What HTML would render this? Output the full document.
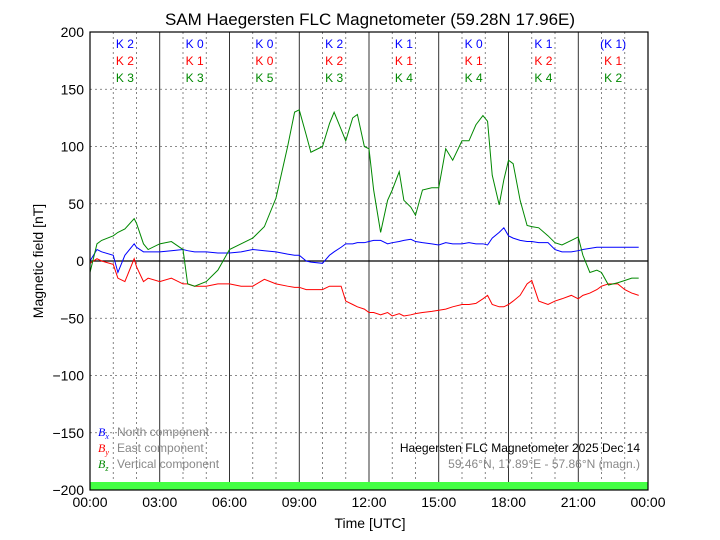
<!DOCTYPE html>
<html><head><meta charset="utf-8"><style>
body{margin:0;background:#fff}
svg{display:block;font-family:"Liberation Sans",sans-serif}
</style></head><body>
<svg id="c" width="720" height="540">
<text x="370" y="25" font-size="17" text-anchor="middle">SAM Haegersten FLC Magnetometer (59.28N 17.96E)</text>
<g id="grid"></g>
<rect x="90" y="482" width="558" height="8" fill="#44ff44"/>
<g id="series"></g>
<rect x="90" y="32" width="558" height="458" fill="none" stroke="#000" stroke-width="1.2"/>
<g id="axes"></g>
<text x="370" y="528" font-size="14" text-anchor="middle">Time [UTC]</text>
<text transform="translate(43,261) rotate(-90)" font-size="14" text-anchor="middle">Magnetic field [nT]</text>
<g font-size="12">
<text x="98" y="436" fill="#00f" font-family="Liberation Serif" font-style="italic">B<tspan font-size="8" dy="3">x</tspan></text>
<text x="117" y="436" fill="#888">North component</text>
<text x="98" y="452" fill="#f00" font-family="Liberation Serif" font-style="italic">B<tspan font-size="8" dy="3">y</tspan></text>
<text x="117" y="452" fill="#888">East component</text>
<text x="98" y="468" fill="#080" font-family="Liberation Serif" font-style="italic">B<tspan font-size="8" dy="3">z</tspan></text>
<text x="117" y="468" fill="#888">Vertical component</text>
</g>
<text x="640" y="452" font-size="12" text-anchor="end">Haegersten FLC Magnetometer 2025 Dec 14</text>
<text x="640" y="468" font-size="12" text-anchor="end" fill="#888">59.46°N, 17.89°E - 57.86°N (magn.)</text>
<g id="kidx" font-size="12" text-anchor="middle"></g>
</svg>
<script>
const hours=[0,0.3,0.5,1,1.2,1.5,1.9,2,2.3,2.5,3,3.5,4,4.2,4.5,5,5.5,6,6.5,7,7.5,8,8.5,8.8,9,9.3,9.5,10,10.3,10.5,10.8,11,11.3,11.5,11.8,12,12.2,12.5,12.8,13,13.3,13.5,13.8,14,14.3,14.7,15,15.3,15.6,16,16.3,16.6,16.9,17.1,17.3,17.6,17.8,18,18.2,18.5,18.8,19,19.3,19.7,20,20.3,20.7,21,21.2,21.5,21.8,22,22.3,22.7,23,23.3,23.6];
const bz=[-10,15,18,22,25,28,37,33,15,10,15,17,10,-20,-22,-18,-8,10,15,20,30,55,100,130,132,110,95,100,120,130,115,105,125,128,100,98,62,25,53,62,78,53,47,40,62,64,64,98,88,105,105,119,127,122,75,49,71,88,85,53,31,30,29,22,16,14,18,21,5,-10,-8,-10,-21,-19,-17,-15,-15];
const bx=[0,10,8,5,-10,5,15,12,8,8,8,9,10,9,8,8,7,7,8,10,9,8,6,5,5,0,-1,-2,5,8,12,15,15,16,16,17,18,18,15,16,17,18,19,17,16,15,14,16,15,15,16,15,15,14,20,25,29,22,20,18,17,17,16,16,10,8,8,9,10,11,12,12,12,12,12,12,12];
const by=[-2,2,0,-3,-15,-18,2,-5,-18,-15,-18,-15,-20,-20,-22,-22,-20,-20,-22,-22,-16,-20,-22,-23,-23,-25,-25,-25,-22,-22,-22,-35,-38,-40,-42,-45,-45,-47,-45,-48,-46,-48,-47,-46,-45,-44,-43,-42,-40,-38,-38,-37,-33,-30,-38,-40,-40,-38,-35,-30,-20,-17,-35,-38,-35,-33,-30,-33,-30,-28,-25,-22,-20,-20,-25,-28,-30];
const kx=["K 2","K 0","K 0","K 2","K 1","K 0","K 1","(K 1)"];
const ky=["K 2","K 1","K 0","K 2","K 1","K 1","K 2","K 1"];
const kz=["K 3","K 3","K 5","K 3","K 4","K 4","K 4","K 2"];
const yTicks=[200,150,100,50,0,-50,-100,-150,-200];
const xTicks=["00:00","03:00","06:00","09:00","12:00","15:00","18:00","21:00","00:00"];
const X=h=>90+h*558/24, Y=v=>261-v*1.145;
const NS="http://www.w3.org/2000/svg";
function mk(tag,a,p){const e=document.createElementNS(NS,tag);for(const k in a)e.setAttribute(k,a[k]);p.appendChild(e);return e;}
const g=document.getElementById('grid'),ax=document.getElementById('axes'),s=document.getElementById('series'),kg=document.getElementById('kidx');
for(let h=1;h<24;h++){const l=mk('line',{x1:X(h),x2:X(h),y1:32,y2:490,stroke:h%3?'#666':'#000','stroke-width':h%3?0.8:0.8,'stroke-dasharray':h%3?'2,3':''},g);

}
yTicks.forEach(v=>{if(v===200||v===-200)return;const l=mk('line',{x1:90,x2:648,y1:Y(v),y2:Y(v),stroke:'#666','stroke-width':0.8,'stroke-dasharray':'2,3'},g);

});
yTicks.forEach(v=>{const t=mk('text',{x:84,y:Y(v)+5,'font-size':14,'text-anchor':'end'},ax);t.textContent=v<0?'\u2212'+(-v):v;

});
xTicks.forEach((lab,i)=>{const t=mk('text',{x:X(i*3),y:507,'font-size':14,'text-anchor':'middle'},ax);t.textContent=lab;

});
const z=mk('line',{x1:90,x2:648,y1:Y(0),y2:Y(0),stroke:'#000','stroke-width':1.3},s);


[[bx,'#00f','bx-line'],[by,'#f00','by-line'],[bz,'#080','bz-line']].forEach(([d,c,n])=>{
const p=mk('polyline',{points:d.map((v,i)=>X(hours[i])+','+Y(v)).join(' '),fill:'none',stroke:c,'stroke-width':1},s);

});
for(let i=0;i<8;i++){const cx=X(i*3+1.5);
[[kx,'#00f',48],[ky,'#f00',65],[kz,'#080',82]].forEach(([arr,c,y])=>{const t=mk('text',{x:cx,y:y,fill:c},kg);t.textContent=arr[i];

});}
</script>
</body></html>
